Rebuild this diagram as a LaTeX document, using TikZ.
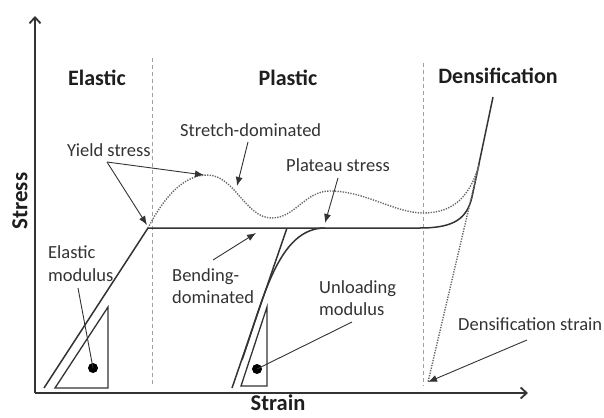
\documentclass[tikz,border=0pt]{standalone}
\usepackage{fontspec}
\setmainfont{Carlito}
\usetikzlibrary{arrows.meta}
\definecolor{ink}{HTML}{333333}
\definecolor{dk}{HTML}{1E1E1E}
\definecolor{dotc}{HTML}{666666}
\definecolor{dashc}{HTML}{A0A0A0}
\begin{document}
\begin{tikzpicture}[x=1pt,y=-1pt,
  lbl/.style={font=\fontsize{18.5}{22.5}\selectfont, text=ink, inner sep=0pt, anchor=west, align=left},
  hdr/.style={font=\bfseries\fontsize{22}{26}\selectfont, text=dk, inner sep=0pt},
  curve/.style={draw=ink, line width=1.5pt},
  ptr/.style={draw=ink, line width=0.9pt, -{Latex[length=9pt,width=7pt]}},
  ptrn/.style={draw=ink, line width=0.9pt},
  vdash/.style={draw=dashc, line width=1pt, dash pattern=on 4pt off 3pt},
  dotline/.style={draw=dotc, line width=1.4pt, dash pattern=on 1.3pt off 1.3pt},
  blob/.style={circle, fill=black, inner sep=0pt, minimum size=10pt},
  axis/.style={draw=ink, line width=1.8pt, -{Straight Barb[length=6pt,width=11pt]}}
]
\useasboundingbox (0,0) rectangle (604,417);

% axes
\coordinate (O) at (35,393);
\coordinate (ytop) at (35,16);
\coordinate (xend) at (528,393);
\draw[axis] (O) -- (ytop);
\draw[axis] (O) -- (xend);

% region separators
\coordinate (d1t) at (152,58);
\coordinate (d1b) at (152,386);
\coordinate (d2t) at (423,63);
\coordinate (d2b) at (423,386);
\draw[vdash] (d1t) -- (d1b);
\draw[vdash] (d2t) -- (d2b);

% headers and axis titles
\node[hdr] (elastic) at (97,78) {Elastic};
\node[hdr] (plastic) at (288,78) {Plastic};
\node[hdr] (dens) at (498,76) {Densification};
\node[hdr, font=\bfseries\fontsize{23}{27}\selectfont, rotate=90] (stress) at (20,201) {Stress};
\node[hdr, font=\bfseries\fontsize{22.5}{27}\selectfont] (strain) at (278,403) {Strain};

% key points
\coordinate (E0) at (44,388);
\coordinate (Y) at (148,228);
\coordinate (P1) at (420,228);
\coordinate (D1) at (472,197);
\coordinate (Dtop) at (493,97);
\coordinate (U0) at (287,228);
\coordinate (U1) at (232,388);
\coordinate (R0) at (242,360);
\coordinate (R1) at (325,228);
\coordinate (S0) at (207,175);
\coordinate (S1) at (272,218);
\coordinate (S2) at (330,191);
\coordinate (S3) at (423,213);
\coordinate (S4) at (479,165);
\coordinate (DS) at (428,382);

% elastic loading + plateau + densification
\draw[curve] (E0) -- (Y) -- (P1) .. controls (455,228) and (467,218) .. (D1) -- (Dtop);
% unloading and reloading
\draw[curve] (U0) -- (U1);
\draw[curve] (R0) .. controls (263,300) and (278,228) .. (R1);

% stretch-dominated dotted curve
\draw[dotline] (Y) .. controls (165,195) and (185,175) .. (S0)
  .. controls (235,175) and (245,218) .. (S1)
  .. controls (295,218) and (305,191) .. (S2)
  .. controls (365,191) and (395,213) .. (S3)
  .. controls (455,213) and (470,195) .. (S4);
\draw[dotline] (S4) -- (DS);

% modulus triangles
\draw[ink, line width=1.3pt] (55,388) coordinate (T1a) -- (108,388) coordinate (T1b) -- (108,307) coordinate (T1c) -- cycle;
\draw[ink, line width=1.3pt] (241,386) coordinate (T2a) -- (267,386) coordinate (T2b) -- (267,307) coordinate (T2c) -- cycle;
\node[blob] (dot1) at (93,368) {};
\node[blob] (dot2) at (257,369) {};

% labels
\node[lbl] (yield) at (67,150) {Yield stress};
\node[lbl] (stretch) at (180,130) {Stretch-dominated};
\node[lbl] (plateau) at (286,165) {Plateau stress};
\node[lbl] (emod) at (48,263.5) {Elastic\\modulus};
\node[lbl] (bend) at (172,286) {Bending-\\dominated};
\node[lbl] (umod) at (319,298) {Unloading\\modulus};
\node[lbl] (dstrain) at (458,324) {Densification strain};

% pointers
\coordinate (ya) at (107,162);
\coordinate (ypk) at (204,175);
\coordinate (yy) at (147,225);
\draw[ptr] (ya) -- (ypk);
\draw[ptr] (ya) -- (yy);
\coordinate (sa) at (248,142);
\coordinate (sb) at (237,186);
\draw[ptr] (sa) -- (sb);
\coordinate (pa) at (338,178);
\coordinate (pb) at (325,223);
\draw[ptr] (pa) -- (pb);
\coordinate (ba) at (213,260);
\coordinate (bb) at (256,233);
\draw[ptr] (ba) -- (bb);
\coordinate (da) at (527,340);
\draw[ptr] (da) -- (DS);
\coordinate (ea) at (78,288);
\draw[ptrn] (ea) -- (dot1.center);
\coordinate (ua) at (352,322);
\draw[ptrn] (ua) -- (dot2.center);
\end{tikzpicture}
\end{document}
